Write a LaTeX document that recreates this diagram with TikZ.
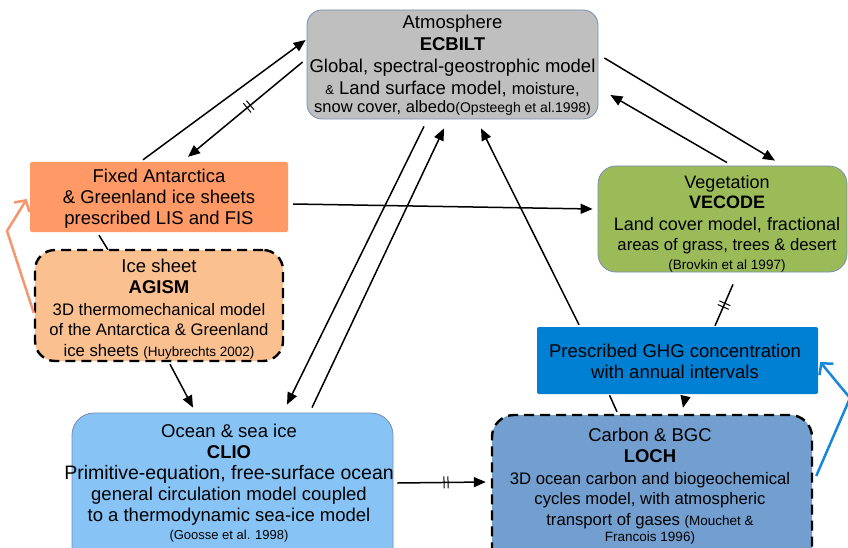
\documentclass[tikz,border=0pt]{standalone}
\usepackage{fontspec}
\setmainfont{Liberation Sans}
\usetikzlibrary{arrows.meta,calc,decorations.markings}
\definecolor{atmgray}{RGB}{191,191,191}
\definecolor{thinborder}{RGB}{120,140,175}
\definecolor{fixorange}{RGB}{255,153,102}
\definecolor{agifill}{RGB}{250,192,144}
\definecolor{vegfill}{RGB}{155,187,89}
\definecolor{ghgfill}{RGB}{0,128,210}
\definecolor{cliofill}{RGB}{135,196,245}
\definecolor{lochfill}{RGB}{114,159,207}
\definecolor{orarrow}{RGB}{247,150,110}
\definecolor{blarrow}{RGB}{25,135,215}
\newcommand\fsz[2]{\fontsize{#1}{#2}\selectfont}
\begin{document}
\begin{tikzpicture}[x=1pt,y=-1pt,
  box/.style={inner sep=0pt, minimum width=#1},
  thinbox/.style={draw=thinborder, line width=0.8pt},
  dashbox/.style={draw=black, line width=2.4pt, dash pattern=on 10pt off 6pt},
  txt/.style={anchor=north, align=center, inner sep=0pt},
  conn/.style={line width=1.5pt, -{Triangle[length=12pt,width=10pt]}},
  plain/.style={line width=1.5pt},
  dtick/.style={postaction={decorate}, decoration={markings,
     mark=at position #1 with {\draw[line width=1pt,-] (-2pt,-6pt)--(-2pt,6pt) (2pt,-6pt)--(2pt,6pt);}}},
  backarrow/.style={line width=2.5pt, -{Straight Barb[length=8pt,width=18pt,line width=2.5pt]}}
]
\useasboundingbox (0,0) rectangle (848,548);
\clip (0,0) rectangle (848,548);

% boxes
\node[box=291pt, minimum height=109pt, fill=atmgray, thinbox, rounded corners=15pt] (atm) at (452.5,64.5) {};
\node[box=258pt, minimum height=70pt, fill=fixorange, rounded corners=2pt] (fix) at (159,197) {};
\node[box=248pt, minimum height=111pt, fill=agifill, dashbox, rounded corners=20pt] (agi) at (159,305.5) {};
\node[box=249pt, minimum height=106pt, fill=vegfill, thinbox, rounded corners=18pt] (veg) at (722.5,219) {};
\node[box=281pt, minimum height=67pt, fill=ghgfill, rounded corners=2pt] (ghg) at (677.5,360.5) {};
\node[box=321pt, minimum height=157pt, fill=cliofill, thinbox, rounded corners=22pt] (clio) at (232.5,491.5) {};
\node[box=320pt, minimum height=155pt, fill=lochfill, dashbox, rounded corners=22pt] (loch) at (652,492.5) {};

% texts
\node[txt, font=\fsz{18.5}{22}] (atmT) at (452.5,15)
 {Atmosphere\\\textbf{ECBILT}\\Global, spectral-geostrophic model\\{\fsz{13}{13}\&} Land surface model, {\fsz{16.5}{16}moisture,}\\[-4pt]{\fsz{16.5}{16}snow cover, albedo}{\fsz{14}{14}(Opsteegh et al.1998)}};
\node[txt, font=\fsz{18.5}{21}] (fixT) at (159,169)
 {Fixed Antarctica\\\& Greenland ice sheets\\prescribed LIS and FIS};
\node[txt, font=\fsz{18.5}{20.5}] (agiT) at (159,259)
 {Ice sheet\\\textbf{AGISM}\\[1.5pt]{\fsz{16.7}{20}3D thermomechanical model}\\{\fsz{16.7}{20}of the Antarctica \& Greenland}\\{\fsz{16.7}{20}ice sheets {\fsz{13.5}{14}(Huybrechts 2002)}}};
\node[txt, font=\fsz{18}{20}] (vegT) at (727,175)
 {Vegetation\\\textbf{VECODE}\\[2pt]Land cover model, fractional\\{\fsz{16.7}{20}areas of grass, trees \& desert}\\[-1pt]{\fsz{13.5}{14}(Brovkin et al 1997)}};
\node[txt, font=\fsz{18.5}{21}] (ghgT) at (675,344)
 {Prescribed GHG concentration\\with annual intervals};
\node[txt, font=\fsz{18.5}{21}] (clioT) at (229,424)
 {Ocean \& sea ice\\\textbf{CLIO}\\{\fsz{19.5}{21}Primitive-equation, free-surface ocean}\\general circulation model coupled\\to a thermodynamic sea-ice model\\[-3pt]{\fsz{13}{14}(Goosse et al. 1998)}};
\node[txt, font=\fsz{18.5}{20.5}] (lochT) at (650,428)
 {Carbon \& BGC\\\textbf{LOCH}\\[1.5pt]{\fsz{16.7}{20}3D ocean carbon and biogeochemical}\\{\fsz{16.7}{20}cycles model, with atmospheric}\\{\fsz{16.7}{20}transport of gases {\fsz{13.5}{14}(Mouchet \&}}\\[-4pt]{\fsz{13.5}{14}Francois 1996)}};

% free corner points
\coordinate (obend) at (7,231);
\coordinate (bbend) at (850,398);

% connectors
\draw[conn] ($(fix.north)+(-16,-2)$) -- ($(atm.west)+(-1,-24.5)$);
\draw[conn, dtick=0.47] ($(atm.west)+(-4,-2.5)$) -- ($(fix.north)+(29,-5)$);
\draw[conn] ($(atm.east)+(6,-6.5)$) -- ($(veg.north)+(52.5,-5)$);
\draw[conn] ($(veg.north)+(4.5,-3)$) -- ($(atm.east)+(12,30.5)$);
\draw[conn] ($(fix.east)+(5,7)$) -- ($(veg.west)+(-5,-10)$);
\draw[conn] ($(atm.south)+(-28.5,7)$) -- ($(clio.north)+(54.5,-8)$);
\draw[conn] ($(clio.north)+(79.5,-5)$) -- ($(atm.south)+(-8.5,9)$);
\draw[conn] ($(ghg.north)+(-98.5,-2)$) -- ($(atm.south)+(28.5,9)$);
\draw[plain, dtick=0.5] ($(veg.south)+(10.5,12)$) -- ($(ghg.north)+(37.5,-1)$);
\draw[plain] ($(fix.south)+(-60,3)$) -- ($(agi.north)+(-51,1)$);
\draw[conn] ($(agi.south)+(11,2)$) -- ($(clio.north)+(-39.5,-5)$);
\draw[conn, dtick=0.55] ($(clio.east)+(4,-8.5)$) -- ($(loch.west)+(-5,-10.5)$);
\draw[conn] ($(ghg.south)+(8,2)$) -- ($(loch.north)+(31,-6)$);
\draw[plain] ($(ghg.south)+(-68,1)$) -- ($(loch.north)+(-35,-2)$);
\draw[backarrow, orarrow] ($(agi.west)+(0,7.5)$) -- (obend) -- ($(fix.west)+(-3,2)$);
\draw[backarrow, blarrow] ($(loch.east)+(3,-16.5)$) -- (bbend) -- ($(ghg.east)+(2,1.5)$);
\end{tikzpicture}
\end{document}
